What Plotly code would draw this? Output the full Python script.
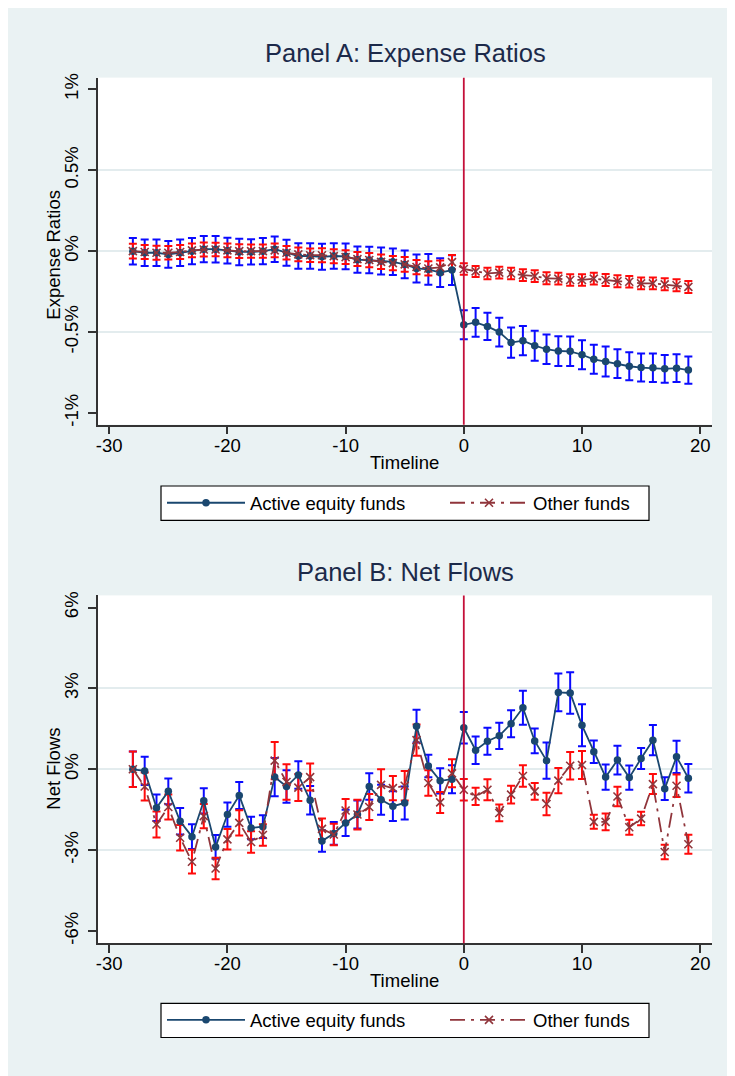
import plotly.graph_objects as go

# ---------------- data ----------------
timeline = list(range(-28, 20))

exp_active = [0.00, -0.01, -0.01, -0.02, -0.01, 0.00, 0.012, 0.012, 0.003, -0.005,
              -0.005, 0.00, 0.012, -0.01, -0.03, -0.03, -0.035, -0.03, -0.032, -0.053,
              -0.055, -0.061, -0.066, -0.082, -0.107, -0.113, -0.133, -0.117,
              -0.455, -0.44, -0.465, -0.50, -0.565, -0.553, -0.584, -0.606, -0.617, -0.619,
              -0.64, -0.668, -0.682, -0.695, -0.711, -0.719, -0.721, -0.727, -0.723, -0.735]
exp_active_ci = [0.082, 0.082, 0.082, 0.082, 0.082, 0.081, 0.081, 0.082, 0.080, 0.082,
                 0.078, 0.081, 0.079, 0.080, 0.079, 0.079, 0.080, 0.079, 0.080, 0.081,
                 0.082, 0.084, 0.082, 0.086, 0.087, 0.095, 0.089, 0.092,
                 0.090, 0.089, 0.084, 0.089, 0.093, 0.090, 0.093, 0.091, 0.092, 0.091,
                 0.089, 0.090, 0.093, 0.089, 0.087, 0.086, 0.088, 0.086, 0.086, 0.084]

exp_other = [0.00, -0.005, -0.01, -0.01, -0.005, 0.005, 0.01, 0.01, 0.005, 0.00,
             0.00, 0.00, 0.005, -0.01, -0.02, -0.025, -0.025, -0.031, -0.037, -0.049,
             -0.055, -0.066, -0.074, -0.082, -0.098, -0.107, -0.10, -0.068,
             -0.11, -0.125, -0.138, -0.133, -0.138, -0.148, -0.154, -0.168, -0.17, -0.178,
             -0.178, -0.17, -0.178, -0.186, -0.189, -0.199, -0.199, -0.205, -0.211, -0.221]
exp_other_ci = [0.045, 0.043, 0.043, 0.042, 0.043, 0.043, 0.043, 0.042, 0.042, 0.042,
                0.041, 0.041, 0.042, 0.042, 0.042, 0.042, 0.043, 0.043, 0.043, 0.043,
                0.044, 0.045, 0.044, 0.046, 0.044, 0.044, 0.043, 0.044,
                0.036, 0.034, 0.035, 0.036, 0.035, 0.036, 0.036, 0.037, 0.036, 0.036,
                0.036, 0.036, 0.037, 0.037, 0.036, 0.036, 0.036, 0.037, 0.037, 0.037]

flow_active = [0.00, -0.06, -1.43, -0.82, -1.93, -2.50, -1.17, -2.88, -1.68, -0.97,
               -2.18, -2.13, -0.29, -0.64, -0.21, -1.15, -2.66, -2.38, -1.99, -1.68,
               -0.64, -1.13, -1.37, -1.25, 1.60, 0.12, -0.43, -0.37,
               1.54, 0.71, 1.04, 1.24, 1.69, 2.28, 1.05, 0.32, 2.85, 2.83,
               1.63, 0.65, -0.29, 0.34, -0.31, 0.40, 1.08, -0.72, 0.46, -0.33]
flow_active_ci = [0.66, 0.52, 0.49, 0.48, 0.49, 0.46, 0.47, 0.44, 0.45, 0.50,
                  0.42, 0.42, 0.71, 0.60, 0.51, 0.53, 0.40, 0.42, 0.49, 0.52,
                  0.49, 0.56, 0.55, 0.61, 0.61, 0.42, 0.47, 0.52,
                  0.58, 0.51, 0.50, 0.49, 0.50, 0.63, 0.46, 0.67, 0.70, 0.77,
                  0.78, 0.42, 0.47, 0.53, 0.45, 0.39, 0.56, 0.42, 0.60, 0.53]

flow_other = [0.00, -0.64, -2.05, -1.40, -2.54, -3.43, -1.74, -3.68, -2.60, -1.99,
              -2.70, -2.44, 0.32, -0.47, -0.68, -0.29, -2.21, -2.42, -1.53, -1.68,
              -1.40, -0.58, -0.70, -0.61, 1.08, -0.51, -1.23, -0.15,
              -0.76, -1.01, -0.76, -1.62, -0.94, -0.25, -0.82, -1.29, -0.42, 0.13,
              0.16, -1.95, -1.95, -1.01, -2.15, -1.83, -0.55, -3.07, -0.61, -2.78]
flow_other_ci = [0.66, 0.52, 0.48, 0.46, 0.47, 0.44, 0.45, 0.40, 0.38, 0.47,
                 0.40, 0.40, 0.69, 0.66, 0.50, 0.50, 0.38, 0.40, 0.43, 0.55,
                 0.48, 0.58, 0.45, 0.55, 0.58, 0.47, 0.39, 0.52,
                 0.40, 0.32, 0.39, 0.31, 0.33, 0.40, 0.31, 0.42, 0.47, 0.51,
                 0.52, 0.26, 0.31, 0.36, 0.28, 0.25, 0.37, 0.27, 0.42, 0.35]

series_names = ["Active equity funds", "Other funds"]
x_ticks = [-30, -20, -10, 0, 10, 20]
x_ticktext = ["-30", "-20", "-10", "0", "10", "20"]
exp_ticks = [-1, -0.5, 0, 0.5, 1]
exp_ticktext = ["-1%", "-0.5%", "0%", "0.5%", "1%"]
flow_ticks = [-6, -3, 0, 3, 6]
flow_ticktext = ["-6%", "-3%", "0%", "3%", "6%"]
event_time = 0

# ---------------- styles ----------------
FONT = "Liberation Sans, Arial, sans-serif"
NAVY = "#1A476F"
MAROON = "#90353B"
BLUE = "#0A0AFF"
RED = "#FF0A0A"
VLINE = "#C4103A"
BG = "#EAF2F3"
GRID = "#E3ECEE"
AXIS = "#333333"
TITLE_C = "#1C2A4A"

fig = go.Figure()


def add_panel(xa, ya, active, active_ci, other, other_ci, legend):
    fig.add_trace(go.Scatter(x=timeline, y=active, mode="markers", xaxis=xa, yaxis=ya,
                             marker=dict(size=1, opacity=0, color=BLUE),
                             error_y=dict(type="data", array=active_ci, color=BLUE,
                                          thickness=2, width=4),
                             showlegend=False, hoverinfo="skip"))
    fig.add_trace(go.Scatter(x=timeline, y=other, mode="markers", xaxis=xa, yaxis=ya,
                             marker=dict(size=1, opacity=0, color=RED),
                             error_y=dict(type="data", array=other_ci, color=RED,
                                          thickness=2, width=4),
                             showlegend=False, hoverinfo="skip"))
    fig.add_trace(go.Scatter(x=timeline, y=active, mode="lines+markers", xaxis=xa, yaxis=ya,
                             name=series_names[0], legend=legend,
                             line=dict(color=NAVY, width=1.8),
                             marker=dict(symbol="circle", size=7.5, color=NAVY)))
    fig.add_trace(go.Scatter(x=timeline, y=other, mode="lines+markers", xaxis=xa, yaxis=ya,
                             name=series_names[1], legend=legend,
                             line=dict(color=MAROON, width=1.8, dash="longdashdot"),
                             marker=dict(symbol="x-thin", size=8, color=MAROON,
                                         line=dict(color=MAROON, width=1.6))))


add_panel("x", "y", exp_active, exp_active_ci, exp_other, exp_other_ci, "legend")
add_panel("x2", "y2", flow_active, flow_active_ci, flow_other, flow_other_ci, "legend2")

# page offset of 8px (browser body margin) -> figure is 727 x 1068
OFF = 8
W, H = 735 - OFF, 1076 - OFF
L, R = 98 - OFF, 23
PW = W - L - R


def px_x(p):
    return (p - OFF - L) / PW


def px_y(p):
    return 1 - (p - OFF) / H


xcommon = dict(range=[-30.95, 21.0], tickvals=x_ticks, ticktext=x_ticktext,
               ticks="outside", ticklen=8, ticklabelstandoff=-5,
               tickwidth=1.5, tickcolor=AXIS, showline=True, linecolor=AXIS, linewidth=1.5,
               showgrid=False, zeroline=False, tickfont=dict(size=18.5, color="#000000"))
ycommon = dict(ticks="outside", ticklen=8, tickwidth=1.5, tickcolor=AXIS, showline=True,
               linecolor=AXIS, linewidth=1.5, showgrid=False, zeroline=False, tickangle=-90,
               ticklabelstandoff=3, tickfont=dict(size=18.5, color="#000000"))

legend_common = dict(orientation="h", xanchor="left", yanchor="middle",
                     bgcolor="rgba(0,0,0,0)", borderwidth=0,
                     font=dict(size=18.5, color="#000000"), itemwidth=78,
                     entrywidth=190, entrywidthmode="pixels")

fig.update_layout(
    width=W, height=H,
    margin=dict(l=L, r=R, t=0, b=0),
    paper_bgcolor=BG, plot_bgcolor="white",
    font=dict(family=FONT, color="#000000"),
    xaxis=dict(domain=[0, 1], anchor="y", **xcommon),
    yaxis=dict(domain=[px_y(423), px_y(74)], anchor="x", range=[-1.072, 1.072],
               tickvals=exp_ticks, ticktext=exp_ticktext,
               minor=dict(tickvals=[-0.5, 0, 0.5], showgrid=True, gridcolor=GRID,
                          gridwidth=1.5, ticklen=0),
               **ycommon),
    xaxis2=dict(domain=[0, 1], anchor="y2", **xcommon),
    yaxis2=dict(domain=[px_y(944.4), px_y(594.7)], anchor="x2", range=[-6.45, 6.45],
                tickvals=flow_ticks, ticktext=flow_ticktext,
                minor=dict(tickvals=[-3, 0, 3], showgrid=True, gridcolor=GRID,
                           gridwidth=1.5, ticklen=0),
                **ycommon),
    legend=dict(x=px_x(162), y=px_y(502), **legend_common),
    legend2=dict(x=px_x(162), y=px_y(1022), **legend_common),
    showlegend=True,
)

shapes = [
    dict(type="rect", xref="paper", yref="paper", x0=px_x(161), x1=px_x(649),
         y0=px_y(519.3), y1=px_y(484.7), fillcolor="white",
         line=dict(color="#000000", width=1.2), layer="below"),
    dict(type="rect", xref="paper", yref="paper", x0=px_x(161), x1=px_x(649),
         y0=px_y(1039.3), y1=px_y(1005), fillcolor="white",
         line=dict(color="#000000", width=1.2), layer="below"),
    dict(type="line", xref="x", yref="y domain", x0=event_time, x1=event_time, y0=0, y1=1,
         line=dict(color=VLINE, width=1.8)),
    dict(type="line", xref="x2", yref="y2 domain", x0=event_time, x1=event_time, y0=0, y1=1,
         line=dict(color=VLINE, width=1.8)),
]
fig.update_layout(shapes=shapes)

annotations = [
    dict(text="Panel A: Expense Ratios", xref="paper", yref="paper", x=0.5, y=px_y(49),
         xanchor="center", yanchor="middle", showarrow=False,
         font=dict(size=25.5, color=TITLE_C)),
    dict(text="Panel B: Net Flows", xref="paper", yref="paper", x=0.5, y=px_y(571),
         xanchor="center", yanchor="middle", showarrow=False,
         font=dict(size=25.5, color=TITLE_C)),
    dict(text="Timeline", xref="paper", yref="paper", x=px_x(404), y=px_y(461),
         xanchor="center", yanchor="middle", showarrow=False, font=dict(size=18.5)),
    dict(text="Timeline", xref="paper", yref="paper", x=px_x(404), y=px_y(982),
         xanchor="center", yanchor="middle", showarrow=False, font=dict(size=18.5)),
    dict(text="Expense Ratios", xref="paper", yref="paper", x=px_x(54), y=px_y(252),
         xanchor="center", yanchor="middle", textangle=-90, showarrow=False,
         font=dict(size=18.5)),
    dict(text="Net Flows", xref="paper", yref="paper", x=px_x(54), y=px_y(769),
         xanchor="center", yanchor="middle", textangle=-90, showarrow=False,
         font=dict(size=18.5)),
]
fig.update_layout(annotations=annotations)

fig.write_html("out.html")
